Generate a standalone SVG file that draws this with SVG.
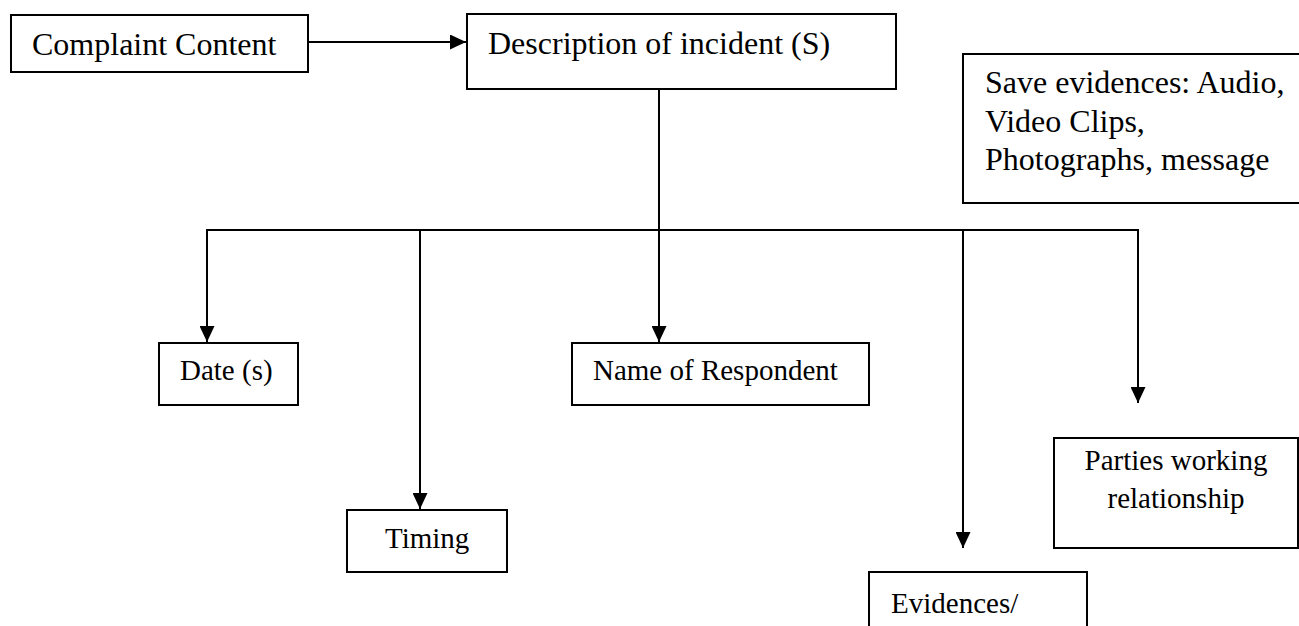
<svg xmlns="http://www.w3.org/2000/svg" width="1299" height="626" viewBox="0 0 1299 626">
  <style>
    .box { fill: #ffffff; stroke: #000000; stroke-width: 2; }
    .conn { fill: none; stroke: #000000; stroke-width: 2; }
    .t32 { font-family: "Liberation Serif", "Times New Roman", serif; font-size: 32px; fill: #000000; }
    .t29 { font-family: "Liberation Serif", "Times New Roman", serif; font-size: 29px; fill: #000000; }
  </style>
  <defs>
    <marker id="arrow" markerUnits="userSpaceOnUse" markerWidth="16" markerHeight="15" refX="16" refY="7.5" orient="auto">
      <path d="M0,0 L16,7.5 L0,15 Z" fill="#000000"/>
    </marker>
  </defs>
  <rect x="0" y="0" width="1299" height="626" fill="#ffffff"/>

  <g id="connectors">
    <path class="conn" d="M308,42 H466" marker-end="url(#arrow)"/>
    <path class="conn" d="M659,89 V342" marker-end="url(#arrow)"/>
    <path class="conn" d="M207,230 H1138"/>
    <path class="conn" d="M207,229 V342" marker-end="url(#arrow)"/>
    <path class="conn" d="M420,230 V509" marker-end="url(#arrow)"/>
    <path class="conn" d="M963,230 V548" marker-end="url(#arrow)"/>
    <path class="conn" d="M1138,229 V403" marker-end="url(#arrow)"/>
  </g>

  <g id="complaint-content">
    <rect class="box" x="11" y="15" width="297" height="57"/>
    <text class="t32" x="32" y="55">Complaint Content</text>
  </g>

  <g id="description">
    <rect class="box" x="467" y="14" width="429" height="75"/>
    <text class="t32" x="488" y="54">Description of incident (S)</text>
  </g>

  <g id="save-evidences">
    <rect class="box" x="963" y="54" width="340" height="149"/>
    <text class="t32" x="985" y="93">Save evidences: Audio,</text>
    <text class="t32" x="985" y="132">Video Clips,</text>
    <text class="t32" x="985" y="170">Photographs, message</text>
  </g>

  <g id="date">
    <rect class="box" x="159" y="343" width="139" height="62"/>
    <text class="t29" x="180" y="380">Date (s)</text>
  </g>

  <g id="name-of-respondent">
    <rect class="box" x="572" y="343" width="297" height="62"/>
    <text class="t29" x="593" y="380">Name of Respondent</text>
  </g>

  <g id="timing">
    <rect class="box" x="347" y="510" width="160" height="62"/>
    <text class="t29" x="385" y="548">Timing</text>
  </g>

  <g id="parties">
    <rect class="box" x="1054" y="438" width="244" height="110"/>
    <text class="t29" x="1176" y="470" text-anchor="middle">Parties working</text>
    <text class="t29" x="1176" y="508" text-anchor="middle">relationship</text>
  </g>

  <g id="evidences">
    <rect class="box" x="869" y="572" width="218" height="70"/>
    <text class="t29" x="891" y="613">Evidences/</text>
  </g>
</svg>
